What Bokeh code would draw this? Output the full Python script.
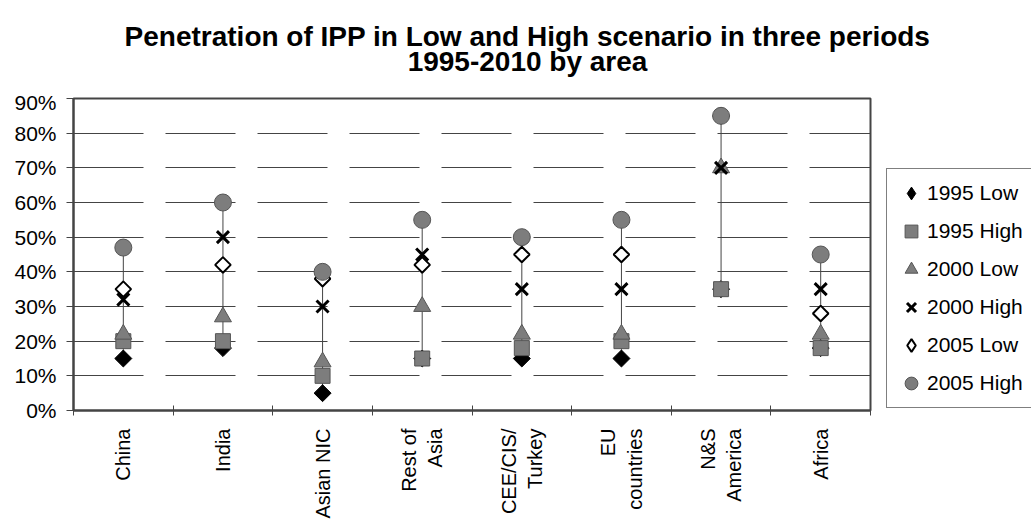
import math
import numpy as np
from bokeh.plotting import figure
from bokeh.layouts import column, row
from bokeh.models import (Range1d, FixedTicker, Legend, LegendItem, NumeralTickFormatter,
                          ColumnDataSource, Label)
from bokeh.embed import file_html
from bokeh.resources import INLINE

# ---------------- data ----------------
areas = ["China", "India", "Asian NIC", "Rest of\nAsia", "CEE/CIS/\nTurkey",
         "EU\ncountries", "N&S\nAmerica", "Africa"]
low_1995 = [15, 18, 5, 15, 15, 15, 35, 18]
high_1995 = [20, 20, 10, 15, 18, 20, 35, 18]
low_2000 = [22, 27, 14, 30, 22, 22, 70, 22]
high_2000 = [32, 50, 30, 45, 35, 35, 70, 35]
low_2005 = [35, 42, 38, 42, 45, 45, 85, 28]
high_2005 = [47, 60, 40, 55, 50, 55, 85, 45]
series_names = ["1995 Low", "1995 High", "2000 Low", "2000 High", "2005 Low", "2005 High"]
y_ticks = [0, 10, 20, 30, 40, 50, 60, 70, 80, 90]
title_lines = ["Penetration of IPP in Low and High scenario in three periods", "1995-2010 by area"]

FONT = "Liberation Sans"
W, H = 1031, 521
TITLE_H = 90
MAIN_W = 872

xs = np.arange(len(areas)) + 0.5
series = [low_1995, high_1995, low_2000, high_2000, low_2005, high_2005]
frac = [np.array(s) / 100.0 for s in series]
ymin = np.min(np.vstack(frac), axis=0)
ymax = np.max(np.vstack(frac), axis=0)


def blank(width, height, yr=(0, 1)):
    f = figure(width=width, height=height, output_backend="svg", toolbar_location=None,
               title=None, x_axis_type=None, y_axis_type=None,
               x_range=Range1d(0, 1), y_range=Range1d(*yr),
               min_border=0, min_border_left=0, min_border_right=0,
               min_border_top=0, min_border_bottom=0)
    f.outline_line_color = None
    f.grid.visible = False
    f.background_fill_color = "white"
    f.border_fill_color = "white"
    return f


# ---------------- title strip ----------------
tf = blank(W, TITLE_H)
for txt, yy in zip(title_lines, [54, 29]):
    tf.add_layout(Label(x=527, y=yy, x_units="screen", y_units="screen", text=txt,
                        text_align="center", text_baseline="middle", text_font=FONT,
                        text_font_size="28px", text_font_style="bold", text_color="black"))

# ---------------- main chart ----------------
p = figure(width=MAIN_W, height=H - TITLE_H, output_backend="svg", toolbar_location=None,
           title=None, x_range=Range1d(0, len(areas)), y_range=Range1d(0, 0.9),
           min_border_left=73, min_border_right=2, min_border_top=8, min_border_bottom=111)

p.outline_line_color = "#444444"
p.outline_line_width = 2
p.background_fill_color = "white"
p.border_fill_color = "white"

p.xgrid.visible = False
p.ygrid.grid_line_color = "#444444"
p.ygrid.grid_line_dash = "70 22"
p.ygrid.grid_line_width = 1

p.yaxis.ticker = FixedTicker(ticks=[t / 100 for t in y_ticks])
p.yaxis.formatter = NumeralTickFormatter(format="0%")
p.yaxis.major_label_text_font = FONT
p.yaxis.major_label_text_font_size = "21px"
p.yaxis.major_label_text_color = "black"
p.yaxis.major_tick_in = 0
p.yaxis.major_tick_out = 7
p.yaxis.minor_tick_line_color = None
p.yaxis.axis_line_color = "#444444"
p.yaxis.axis_line_width = 2
p.yaxis.major_tick_line_color = "#444444"
p.yaxis.major_label_standoff = 10

p.xaxis.ticker = FixedTicker(ticks=list(xs), minor_ticks=list(range(len(areas) + 1)))
p.xaxis.major_label_overrides = {float(x): a for x, a in zip(xs, areas)}
p.xaxis.major_label_orientation = math.pi / 2
p.xaxis.major_label_text_font = FONT
p.xaxis.major_label_text_font_size = "20px"
p.xaxis.major_label_text_color = "black"
p.xaxis.major_tick_in = 0
p.xaxis.major_tick_out = 0
p.xaxis.minor_tick_in = 5
p.xaxis.minor_tick_out = 5
p.xaxis.minor_tick_line_color = "#444444"
p.xaxis.axis_line_color = "#444444"
p.xaxis.axis_line_width = 2
p.xaxis.major_label_standoff = 13

# high-low lines
p.segment(x0=xs, y0=ymin, x1=xs, y1=ymax, line_color="#444444", line_width=1)

styles = [
    dict(marker="square", angle=math.pi / 4, size=12, fill_color="black", line_color="black"),
    dict(marker="square", size=15, fill_color="#7d7d7d", line_color="#555555"),
    dict(marker="triangle", size=17, fill_color="#7d7d7d", line_color="#555555"),
    dict(marker="x", size=17, line_color="black", line_width=3),
    dict(marker="square", angle=math.pi / 4, size=11, fill_color="white", line_color="black", line_width=2),
    dict(marker="circle", size=17, fill_color="#7d7d7d", line_color="#555555"),
]
for vals, st in zip(frac, styles):
    p.scatter("x", "y", source=ColumnDataSource(dict(x=xs, y=vals)), **st)

# ---------------- legend panel (series re-plotted out of view, legend only) ----------------
lf = blank(W - MAIN_W, H - TITLE_H, yr=(2, 3))
legend_styles = [
    dict(marker="diamond", fill_color="black", line_color="black"),
    dict(marker="square", fill_color="#7d7d7d", line_color="#555555"),
    dict(marker="triangle", fill_color="#7d7d7d", line_color="#555555"),
    dict(marker="x", line_color="black", line_width=3),
    dict(marker="diamond", fill_color="white", line_color="black", line_width=2),
    dict(marker="circle", fill_color="#7d7d7d", line_color="#555555"),
]
items = []
for name, vals, st in zip(series_names, frac, legend_styles):
    r = lf.scatter("x", "y", source=ColumnDataSource(dict(x=xs, y=vals)), **st)
    items.append(LegendItem(label=name, renderers=[r]))

legend = Legend(items=items, location=(14, 2))
legend.label_text_font = FONT
legend.label_text_font_size = "21px"
legend.label_text_color = "black"
legend.glyph_height = 32
legend.glyph_width = 32
legend.label_height = 32
legend.spacing = 6
legend.padding = 8
legend.margin = 0
legend.label_standoff = 0
legend.border_line_color = "black"
legend.border_line_width = 1
legend.background_fill_color = "white"
legend.background_fill_alpha = 1
lf.add_layout(legend, "center")

layout = column(tf, row(p, lf, spacing=0), spacing=0)
open("out.html", "w").write(file_html(layout, INLINE))
